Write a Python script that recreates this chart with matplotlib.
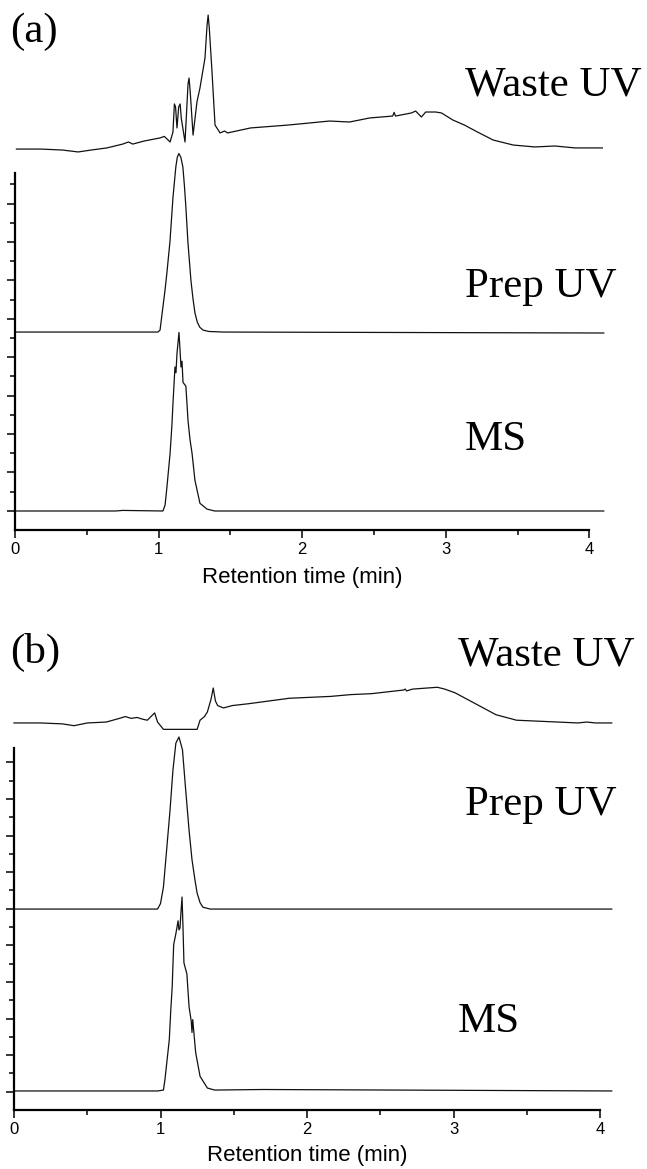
import matplotlib
matplotlib.use("Agg")
import matplotlib.pyplot as plt
import numpy as np

# ── data (time in min, signal in axis units above baseline) ──
# panel (a)
waste_a_t = [0.01, 0.18, 0.33, 0.44, 0.53, 0.64, 0.75, 0.79, 0.82, 0.90, 1.01, 1.04, 1.08,
             1.10, 1.11, 1.118, 1.128, 1.14, 1.15, 1.158, 1.184, 1.205, 1.212, 1.22, 1.24,
             1.267, 1.288, 1.323, 1.337, 1.345, 1.353, 1.372, 1.393, 1.428, 1.46, 1.48, 1.64,
             1.90, 2.19, 2.33, 2.47, 2.63, 2.64, 2.65, 2.76, 2.79, 2.83, 2.86, 2.93, 2.97,
             3.05, 3.13, 3.22, 3.33, 3.47, 3.62, 3.76, 3.90, 4.09]
waste_a_y = [0.0, 0.0, -0.05, -0.15, -0.05, 0.06, 0.26, 0.37, 0.26, 0.42, 0.58, 0.66, 0.37,
             0.89, 2.35, 2.2, 1.10, 2.2, 2.35, 1.6, 0.37, 3.4, 3.70, 3.0, 0.73,
             2.45, 3.18, 4.74, 6.4, 6.98, 6.3, 4.01, 1.25, 0.84, 0.94, 0.84, 1.10,
             1.25, 1.46, 1.41, 1.62, 1.72, 1.91, 1.72, 1.88, 1.98, 1.67, 1.93, 1.93, 1.88,
             1.51, 1.25, 0.89, 0.47, 0.21, 0.11, 0.16, 0.06, 0.06]

prep_a_t = [0.0, 0.995, 1.01, 1.03, 1.045, 1.058, 1.079, 1.10, 1.12, 1.13, 1.141, 1.155, 1.169,
            1.18, 1.19, 1.204, 1.225, 1.24, 1.253, 1.27, 1.287, 1.31, 1.35, 1.45, 4.1]
prep_a_y = [0.0, 0.0, 0.1, 1.3, 2.2, 3.1, 4.7, 7.0, 8.6, 9.1, 9.3, 9.1, 8.6,
            7.6, 6.5, 4.7, 2.7, 1.7, 1.0, 0.5, 0.25, 0.1, 0.03, 0.0, -0.05]

ms_a_t = [0.0, 0.70, 0.75, 1.03, 1.045, 1.058, 1.08, 1.093, 1.10, 1.114, 1.121, 1.128, 1.142,
          1.149, 1.156, 1.163, 1.17, 1.19, 1.205, 1.219, 1.233, 1.253, 1.288, 1.337, 1.39,
          2.0, 4.1]
ms_a_y = [0.0, 0.0, 0.03, 0.0, 0.3, 1.25, 3.0, 4.5, 5.6, 7.5, 7.2, 8.2, 9.3,
          8.4, 7.5, 7.8, 6.7, 6.5, 4.7, 3.7, 3.0, 1.6, 0.4, 0.1, 0.0,
          0.0, 0.0]

# panel (b)
waste_b_t = [0.0, 0.18, 0.33, 0.41, 0.50, 0.63, 0.72, 0.76, 0.80, 0.84, 0.88, 0.91, 0.96,
             0.98, 1.02, 1.15, 1.25, 1.27, 1.30, 1.32, 1.345, 1.36, 1.375, 1.39, 1.43, 1.49,
             1.60, 1.88, 2.16, 2.30, 2.44, 2.66, 2.67, 2.68, 2.72, 2.89, 2.94, 3.01, 3.15,
             3.29, 3.43, 3.57, 3.71, 3.85, 3.91, 3.97, 4.08]
waste_b_y = [0.0, 0.0, -0.05, -0.15, 0.0, 0.05, 0.25, 0.35, 0.25, 0.3, 0.2, 0.15, 0.55,
             0.05, -0.35, -0.35, -0.35, 0.15, 0.35, 0.6, 1.3, 1.91, 1.2, 0.95, 0.82, 0.95,
             1.05, 1.35, 1.45, 1.55, 1.6, 1.8, 1.85, 1.75, 1.85, 1.95, 1.85, 1.65, 1.05,
             0.45, 0.15, 0.1, 0.05, 0.0, 0.05, 0.0, 0.0]

prep_b_t = [0.0, 0.98, 1.0, 1.02, 1.04, 1.065, 1.085, 1.105, 1.126, 1.15, 1.17, 1.195,
            1.215, 1.235, 1.25, 1.27, 1.29, 1.34, 4.08]
prep_b_y = [0.0, 0.0, 0.3, 1.2, 3.06, 5.4, 7.6, 9.07, 9.4, 8.7, 6.7, 4.3,
            2.7, 1.6, 0.87, 0.35, 0.1, 0.0, 0.0]

ms_b_t = [0.0, 0.98, 1.02, 1.03, 1.06, 1.07, 1.08, 1.085, 1.09, 1.105, 1.12, 1.126, 1.133,
          1.14, 1.147, 1.153, 1.16, 1.18, 1.195, 1.21, 1.215, 1.22, 1.24, 1.27, 1.32, 1.37,
          1.70, 4.08]
ms_b_y = [0.0, 0.0, 0.05, 0.6, 2.8, 4.4, 5.7, 6.9, 8.0, 8.6, 9.3, 8.8, 8.9,
          9.8, 10.6, 9.1, 7.0, 6.4, 4.6, 3.8, 3.2, 3.9, 2.1, 0.8, 0.16, 0.05,
          0.08, 0.0]

panel_labels = ["(a)", "(b)"]
trace_names = ["Waste UV", "Prep UV", "MS"]
x_ticks = [0, 1, 2, 3, 4]

# ── layout (pixels of a 647x1169 canvas) ──
W, H = 647, 1169
fig = plt.figure(figsize=(W / 100, H / 100), dpi=100)


def px_text(x, y, s, **kw):
    fig.text(x / W, 1 - y / H, s, **kw)


def draw_panel(x0, y_axis, y_top, px_per_min, px_per_unit, spine_top, n_ticks,
               traces, offsets, label_pos, label_y, xlabel_y, tag_y):
    ax = fig.add_axes([x0 / W, 1 - y_axis / H, 4.2 * px_per_min / W, (y_axis - y_top) / H])
    ax.set_xlim(0, 4.2)
    ax.set_ylim(0, (y_axis - y_top) / px_per_unit)
    for (t, y), off in zip(traces, offsets):
        ax.plot(t, np.asarray(y) + off, color="#111111", lw=0.9, clip_on=False)

    for s in ("top", "right"):
        ax.spines[s].set_visible(False)
    ax.spines["left"].set_bounds(0, spine_top)
    ax.spines["bottom"].set_bounds(0, 4)
    ax.spines["left"].set_linewidth(1.6)
    ax.spines["bottom"].set_linewidth(1.6)
    ax.patch.set_visible(False)

    ax.set_xticks(x_ticks)
    ax.set_xticks([0.5, 1.5, 2.5, 3.5], minor=True)
    ax.set_xticklabels([str(v) for v in x_ticks], fontfamily="Liberation Sans", fontsize=12)
    ax.set_yticks(list(range(1, n_ticks + 1, 2)))
    ax.set_yticks(list(range(2, n_ticks + 1, 2)), minor=True)
    ax.set_yticklabels([])
    ax.tick_params(axis="both", which="major", direction="out", length=6, width=1.1, pad=3)
    ax.tick_params(axis="both", which="minor", direction="out", length=3.5, width=1.1)

    px_text(10, tag_y, label_pos, fontfamily="Liberation Serif", fontsize=31, va="center")
    for name, (lx, ly) in zip(trace_names, label_y):
        px_text(lx, ly, name, fontfamily="Liberation Serif", fontsize=31, va="center")
    px_text(x0 + 2 * px_per_min, xlabel_y, "Retention time (min)",
            fontfamily="Liberation Sans", fontsize=16, ha="center", va="center")


draw_panel(15, 530, 0, 143.6, 19.2, 18.6, 18,
           [(waste_a_t, waste_a_y), (prep_a_t, prep_a_y), (ms_a_t, ms_a_y)],
           [19.84, 10.31, 0.99], panel_labels[0],
           [(465, 85), (465, 287), (465, 440)], 578, 32)

draw_panel(14, 1110, 600, 146.5, 18.3, 19.8, 19,
           [(waste_b_t, waste_b_y), (prep_b_t, prep_b_y), (ms_b_t, ms_b_y)],
           [21.15, 10.98, 1.04], panel_labels[1],
           [(458, 655), (465, 805), (458, 1022)], 1155, 652)

fig.savefig("out.png", dpi=100)
